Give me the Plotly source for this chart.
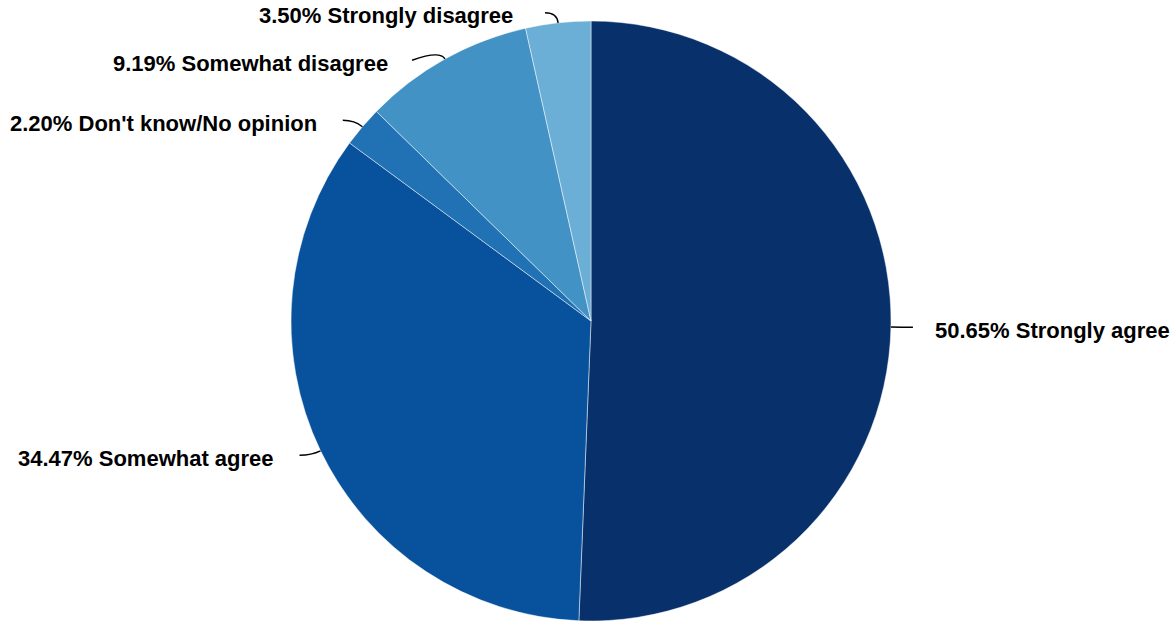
import math
import plotly.graph_objects as go

categories = ["Strongly agree", "Somewhat agree", "Don't know/No opinion",
              "Somewhat disagree", "Strongly disagree"]
values = [50.65, 34.47, 2.20, 9.19, 3.50]
colors = ["#08306b", "#08519c", "#2171b5", "#4292c6", "#6baed6"]

W, H = 1171, 622
CX, CY, R = 591, 321, 300  # pie geometry in pixels

def px(x):
    return x / W

def py(y):
    return 1 - y / H

fig = go.Figure(go.Pie(
    labels=categories, values=values, sort=False, direction="clockwise",
    rotation=0, textinfo="none", hoverinfo="label+percent",
    marker=dict(colors=colors, line=dict(color="rgba(255,255,255,0.6)", width=0.8)),
    domain=dict(x=[px(CX - R), px(CX + R)], y=[py(CY + R), py(CY - R)]),
    showlegend=False,
))

total = sum(values)
shapes, annotations = [], []
cum = 0.0
# small per-label tweaks (horizontal extension, vertical end offset) for crowded labels
ext = [12, 12, 12, 28, 12]
dyend = [0, 0, 0, 10, 0]
gap = [20, 24, 24, 22, 30]
for i, (cat, v) in enumerate(zip(categories, values)):
    mid = (cum + v / 2) / total * 2 * math.pi
    cum += v
    s, c = math.sin(mid), math.cos(mid)
    x0, y0 = CX + R * s, CY - R * c
    x1, y1 = CX + (R + 10) * s, CY - (R + 10) * c
    side = 1 if s >= 0 else -1
    x2, y2 = x1 + side * ext[i], y1 + dyend[i]
    shapes.append(dict(
        type="path", xref="paper", yref="paper",
        path=f"M {px(x0)},{py(y0)} Q {px(x1)},{py(y1)} {px(x2)},{py(y2)}",
        line=dict(color="black", width=1.5),
    ))
    annotations.append(dict(
        xref="paper", yref="paper", showarrow=False,
        x=px(x2 + side * gap[i]), y=py(y2 + 3),
        xanchor="left" if side > 0 else "right", yanchor="middle",
        text=f"{v:.2f}% {cat}",
        font=dict(family="Liberation Sans, Arial, sans-serif", size=22,
                  color="black", weight="bold"),
    ))

fig.update_layout(
    width=W, height=H, margin=dict(l=0, r=0, t=0, b=0),
    paper_bgcolor="white", plot_bgcolor="white",
    shapes=shapes, annotations=annotations,
)
html = fig.to_html(full_html=True, include_plotlyjs=True,
                   config={"displayModeBar": False})
html = html.replace("<body>", '<body style="margin:0;padding:0;overflow:hidden">', 1)
with open("out.html", "w", encoding="utf-8") as f:
    f.write(html)
